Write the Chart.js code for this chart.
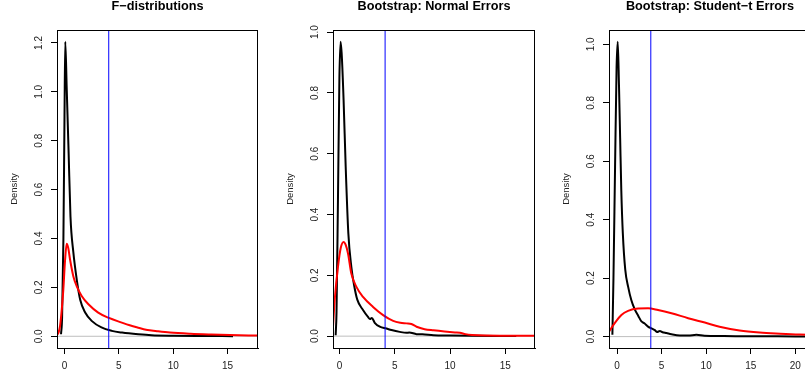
<!DOCTYPE html>
<html>
<head>
<meta charset="utf-8">
<title>F-distributions and bootstrap densities</title>
<script src="https://cdn.jsdelivr.net/npm/chart.js@4.4.1/dist/chart.umd.min.js"></script>
<style>
  body { margin: 0; width: 805px; height: 378px; overflow: hidden; background: #fff; position: relative; }
  canvas { position: absolute; top: 0; }
</style>
</head>
<body>
<canvas id="panel-f" width="276" height="378" style="left:0px"></canvas>
<canvas id="panel-normal" width="276" height="378" style="left:276px"></canvas>
<canvas id="panel-student" width="265" height="378" style="left:552px"></canvas>
<script>
//------------------------------------------------ DATA ------------------------------------------------
const titles = ["F\u2212distributions", "Bootstrap: Normal Errors", "Bootstrap: Student\u2212t Errors"];
const yLabel = "Density";

// panel 1: F-distributions
const fBlackX = [-0.32, -0.22, -0.1, 0.0, 0.07, 0.2, 0.38, 0.55, 0.81, 1.15, 1.45, 1.9, 2.5, 3.4, 4.35, 5.3, 6.8, 8.0, 10.0, 13.0, 15.5];
const fBlackY = [0.008, 0.08, 0.4, 0.9, 1.205, 1.02, 0.75, 0.49, 0.345, 0.225, 0.148, 0.097, 0.063, 0.036, 0.022, 0.015, 0.008, 0.004, 0.002, 0.001, 0.0004];
const fRedX = [-0.72, -0.55, -0.41, -0.25, -0.11, 0.05, 0.2, 0.35, 0.51, 0.81, 1.12, 1.58, 2.2, 3.1, 4.03, 5.27, 6.0, 6.8, 7.5, 8.0, 8.5, 9.7, 11.6, 13.5, 15.2, 17.8];
const fRedY = [0.005, 0.015, 0.042, 0.11, 0.19, 0.31, 0.378, 0.36, 0.314, 0.246, 0.205, 0.165, 0.131, 0.097, 0.076, 0.056, 0.045, 0.035, 0.027, 0.024, 0.021, 0.015, 0.01, 0.007, 0.005, 0.003];
const fCritical = 4.07;

// panel 2: bootstrap, normal errors
const nBlackX = [-0.36, -0.28, -0.15, -0.02, 0.09, 0.2, 0.36, 0.55, 0.79, 1.06, 1.3, 1.6, 2.12, 2.57, 2.75, 2.92, 3.18, 3.64, 4.24, 4.7, 5.45, 6.06, 6.3, 6.97, 7.5, 8.5, 10, 12, 14, 16];
const nBlackY = [0.003, 0.08, 0.45, 0.85, 0.968, 0.92, 0.776, 0.557, 0.338, 0.228, 0.17, 0.12, 0.086, 0.063, 0.056, 0.06, 0.044, 0.031, 0.025, 0.02, 0.014, 0.011, 0.012, 0.0066, 0.006, 0.003, 0.002, 0.001, 0.0005, 0.0003];
const nRedX = [-0.6, -0.45, -0.15, 0.1, 0.36, 0.55, 0.76, 1.06, 1.52, 2.12, 3.03, 3.94, 4.85, 5.5, 6.06, 6.5, 6.97, 7.7, 8.5, 9.5, 10.45, 10.9, 11.4, 12, 13.2, 15, 17.7];
const nRedY = [0.03, 0.118, 0.228, 0.29, 0.31, 0.3, 0.272, 0.206, 0.162, 0.129, 0.096, 0.069, 0.05, 0.044, 0.042, 0.04, 0.031, 0.023, 0.019, 0.015, 0.012, 0.011, 0.0066, 0.004, 0.002, 0.0015, 0.001];
const nCritical = 4.12;

// panel 3: bootstrap, student-t errors
const tBlackX = [-0.52, -0.4, -0.22, -0.05, 0.08, 0.22, 0.35, 0.48, 0.65, 0.92, 1.25, 1.6, 1.99, 2.4, 2.74, 3.1, 3.48, 3.87, 4.24, 4.5, 4.8, 5.1, 5.55, 6.1, 7.05, 8.0, 8.9, 9.8, 12, 15, 18, 21.5];
const tBlackY = [0.006, 0.2, 0.58, 0.92, 1.009, 0.86, 0.68, 0.5, 0.354, 0.23, 0.17, 0.125, 0.093, 0.07, 0.052, 0.045, 0.034, 0.028, 0.022, 0.016, 0.019, 0.015, 0.012, 0.008, 0.004, 0.004, 0.006, 0.003, 0.002, 0.001, 0.0008, 0.0005];
const tRedX = [-0.9, -0.26, 0.49, 1.24, 2.36, 3.48, 4.6, 6.11, 7.98, 9.85, 11.5, 13.75, 16, 18.3, 20.5, 21.8];
const tRedY = [0.017, 0.046, 0.074, 0.088, 0.096, 0.097, 0.091, 0.08, 0.063, 0.048, 0.034, 0.021, 0.014, 0.01, 0.007, 0.006];
const tCritical = 3.79;

// axis limits and tick labels
const xLimits = [[-0.69, 17.8], [-0.6, 17.7], [-0.9, 21.76]];
const yLimits = [[-0.048, 1.253], [-0.039, 1.007], [-0.039, 1.049]];
const xTicks = [[0, 5, 10, 15], [0, 5, 10, 15], [0, 5, 10, 15, 20]];
const yTicks = [[0, 0.2, 0.4, 0.6, 0.8, 1.0, 1.2], [0, 0.2, 0.4, 0.6, 0.8, 1.0], [0, 0.2, 0.4, 0.6, 0.8, 1.0]];

//------------------------------------------------ CHART ------------------------------------------------
const fontFamily = "'Liberation Sans', Arial, Helvetica, sans-serif";

function toPoints(xs, ys) {
    return xs.map((x, i) => ({ x: x, y: ys[i] }));
}

// R-style box around the plot region
var boxPlugin = {
    id: 'plotBox',
    afterDraw: function (chart) {
        var a = chart.chartArea;
        var ctx = chart.ctx;
        var l = Math.round(a.left), r = Math.round(a.right), t = Math.round(a.top), b = Math.round(a.bottom);
        ctx.save();
        ctx.strokeStyle = '#000';
        ctx.lineWidth = 1;
        ctx.strokeRect(l + 0.5, t + 0.5, r - l - 1, b - t);
        ctx.restore();
    }
};

function makePanel(id, k, blackX, blackY, redX, redY, critical, padRight) {
    var xMin = xLimits[k][0], xMax = xLimits[k][1];
    var yMin = yLimits[k][0], yMax = yLimits[k][1];
    var ctx = document.getElementById(id).getContext('2d');
    return new Chart(ctx, {
        type: 'line',
        data: {
            datasets: [
                { data: [{ x: xMin, y: 0 }, { x: xMax, y: 0 }], borderColor: '#bebebe', borderWidth: 1, order: 4 },
                { data: toPoints(blackX, blackY), borderColor: '#000000', borderWidth: 2, order: 3, cubicInterpolationMode: 'monotone' },
                { data: toPoints(redX, redY), borderColor: '#ff0000', borderWidth: 2, order: 2, cubicInterpolationMode: 'monotone' },
                { data: [{ x: critical, y: yMin }, { x: critical, y: yMax }], borderColor: '#0000ff', borderWidth: 1, order: 1 }
            ]
        },
        options: {
            responsive: false,
            animation: false,
            clip: 0,
            elements: { point: { radius: 0 }, line: { fill: false } },
            layout: { padding: { left: 0, right: padRight, top: 0, bottom: 0 }, autoPadding: false },
            plugins: {
                legend: { display: false },
                tooltip: { enabled: false },
                title: {
                    display: true,
                    text: titles[k],
                    fullSize: false,
                    color: '#000',
                    font: { family: fontFamily, size: 12.7, weight: 'bold', lineHeight: 1 },
                    padding: { top: 0, bottom: 17.3 }
                }
            },
            scales: {
                x: {
                    type: 'linear',
                    min: xMin,
                    max: xMax,
                    afterFit: function (s) { s.height = 30; },
                    afterBuildTicks: function (s) { s.ticks = xTicks[k].map(v => ({ value: v })); },
                    grid: { drawOnChartArea: false, drawTicks: true, tickLength: 6, color: '#000' },
                    border: { display: true, color: '#000', width: 1 },
                    ticks: { padding: 6, color: '#222', autoSkip: false, maxRotation: 0, font: { family: fontFamily, size: 10 },
                             callback: v => String(v) }
                },
                y: {
                    type: 'linear',
                    min: yMin,
                    max: yMax,
                    afterFit: function (s) { s.width = 57; },
                    afterBuildTicks: function (s) { s.ticks = yTicks[k].map(v => ({ value: v })); },
                    grid: { drawOnChartArea: false, drawTicks: true, tickLength: 6, color: '#000' },
                    border: { display: true, color: '#000', width: 1 },
                    ticks: { padding: 5, color: '#222', autoSkip: false, minRotation: 90, maxRotation: 90, crossAlign: 'center',
                             font: { family: fontFamily, size: 10 }, callback: v => v.toFixed(1) },
                    title: { display: true, text: yLabel, color: '#222', padding: { top: 8.8, bottom: 0 },
                             font: { family: fontFamily, size: 9.5 } }
                }
            }
        },
        plugins: [boxPlugin]
    });
}

makePanel('panel-f', 0, fBlackX, fBlackY, fRedX, fRedY, fCritical, 18);
makePanel('panel-normal', 1, nBlackX, nBlackY, nRedX, nRedY, nCritical, 17);
makePanel('panel-student', 2, tBlackX, tBlackY, tRedX, tRedY, tCritical, 6);
</script>
</body>
</html>
